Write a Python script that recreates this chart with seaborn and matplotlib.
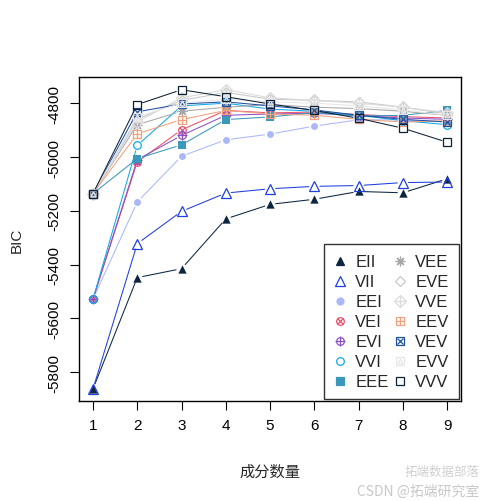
import matplotlib
matplotlib.use("Agg")
import matplotlib.pyplot as plt
import seaborn as sns
import pandas as pd
from matplotlib.lines import Line2D

sns.set_theme(style="white")
plt.rcParams["font.family"] = ["Liberation Sans", "Noto Sans CJK SC", "DejaVu Sans"]

# number of components
components = [1, 2, 3, 4, 5, 6, 7, 8, 9]

# BIC values per model
EII = [-5862, -5448, -5415, -5230, -5176, -5157, -5128, -5133, -5081]
VII = [-5862, -5322, -5202, -5134, -5118, -5109, -5106, -5095, -5093]
EEI = [-5528, -5167, -4997, -4936, -4915, -4885, -4862, -4862, -4870]
VEI = [-5528, -5018, -4899, -4827, -4836, -4833, -4842, -4850, -4855]
EVI = [-5528, -5010, -4920, -4845, -4840, -4838, -4846, -4855, -4860]
VVI = [-5528, -4957, -4810, -4800, -4822, -4830, -4845, -4865, -4880]
EEE = [-5136, -5006, -4955, -4861, -4851, -4835, -4848, -4845, -4827]
VEE = [-5136, -4880, -4830, -4815, -4805, -4815, -4820, -4830, -4845]
EVE = [-5136, -4860, -4790, -4760, -4785, -4790, -4795, -4815, -4840]
VVE = [-5136, -4870, -4780, -4750, -4780, -4790, -4800, -4815, -4835]
EEV = [-5136, -4914, -4861, -4827, -4840, -4845, -4860, -4870, -4865]
VEV = [-5136, -4832, -4803, -4795, -4810, -4825, -4845, -4860, -4870]
EVV = [-5136, -4850, -4800, -4785, -4795, -4800, -4810, -4825, -4845]
VVV = [-5136, -4805, -4750, -4776, -4803, -4827, -4856, -4893, -4945]

models = ["EII", "VII", "EEI", "VEI", "EVI", "VVI", "EEE",
          "VEE", "EVE", "VVE", "EEV", "VEV", "EVV", "VVV"]
bic = {"EII": EII, "VII": VII, "EEI": EEI, "VEI": VEI, "EVI": EVI, "VVI": VVI,
       "EEE": EEE, "VEE": VEE, "EVE": EVE, "VVE": VVE, "EEV": EEV, "VEV": VEV,
       "EVV": EVV, "VVV": VVV}

colors = {"EII": "#0d2540", "VII": "#1f3de0", "EEI": "#aab8fa", "VEI": "#e8506a",
          "EVI": "#8a50c8", "VVI": "#10a8e8", "EEE": "#3a98b8", "VEE": "#a8a8a8",
          "EVE": "#c8c8c8", "VVE": "#dadada", "EEV": "#f2a07e", "VEV": "#2050a0",
          "EVV": "#e6e6e6", "VVV": "#0d2035"}

# marker layers imitating R pch symbols: (marker, filled, size)
markers = {
    "EII": [("^", True, 6)],
    "VII": [("^", False, 6.5)],
    "EEI": [("o", True, 5)],
    "VEI": [("o", False, 5.5), ("x", False, 4.5)],
    "EVI": [("o", False, 5.5), ("+", False, 6.5)],
    "VVI": [("o", False, 5.5)],
    "EEE": [("s", True, 5.5)],
    "VEE": [((8, 2, 0), False, 7)],
    "EVE": [("D", False, 5.5)],
    "VVE": [("D", False, 6.5), ("+", False, 6.5)],
    "EEV": [("s", False, 5.5), ("+", False, 5.5)],
    "VEV": [("s", False, 5.5), ("x", False, 4)],
    "EVV": [("s", False, 5.5), ("^", False, 3.5)],
    "VVV": [("s", False, 5.5)],
}

df = pd.DataFrame([(m, k, v) for m in models for k, v in zip(components, bic[m])],
                  columns=["model", "k", "BIC"])

fig = plt.figure(figsize=(5.02, 5.02), dpi=100)
ax = fig.add_axes([0.157, 0.199, 0.762, 0.646])

for m in models:
    sub = df[df["model"] == m]
    xs, ys = sub["k"].tolist(), sub["BIC"].tolist()
    # R type="b": lines with gaps near the points
    for i in range(len(xs) - 1):
        ax.annotate("", xy=(xs[i + 1], ys[i + 1]), xytext=(xs[i], ys[i]),
                    arrowprops=dict(arrowstyle="-", color=colors[m], lw=0.75,
                                    shrinkA=4, shrinkB=4))
    for mk, filled, size in markers[m]:
        if filled:
            sns.scatterplot(x=xs, y=ys, marker=mk, s=size ** 2, color=colors[m],
                            edgecolor=colors[m], linewidth=0, ax=ax, zorder=3)
        else:
            ax.plot(xs, ys, linestyle="none", marker=mk, markersize=size,
                    markerfacecolor="none", markeredgecolor=colors[m],
                    markeredgewidth=0.9, zorder=3)

ax.set_xlim(0.68, 9.32)
ax.set_ylim(-5907, -4702)
ax.set_xticks(components)
ax.set_yticks([-5800, -5600, -5400, -5200, -5000, -4800])
ax.set_yticklabels(["-5800", "-5600", "-5400", "-5200", "-5000", "-4800"],
                   rotation=90, va="center")
ax.tick_params(direction="out", length=6.5, width=0.8, labelsize=11, pad=6,
               bottom=True, left=True, colors="black")
for s in ax.spines.values():
    s.set_color("black")
    s.set_linewidth(1.0)

ax.set_xlabel("成分数量", fontsize=11, labelpad=22,
              family=["Noto Sans CJK SC", "DejaVu Sans"])
ax.set_ylabel("BIC", fontsize=11, labelpad=17)

handles = []
for m in models:
    mk, filled, size = markers[m][0]
    h = Line2D([], [], linestyle="none", marker=mk, markersize=size,
               markerfacecolor=colors[m] if filled else "none",
               markeredgecolor=colors[m], markeredgewidth=0.9)
    if len(markers[m]) > 1:
        mk2, _, size2 = markers[m][1]
        h2 = Line2D([], [], linestyle="none", marker=mk2, markersize=size2,
                    markerfacecolor="none", markeredgecolor=colors[m],
                    markeredgewidth=0.9)
        h = (h, h2)
    handles.append(h)

leg = ax.legend(handles, models, ncol=2, loc="lower right",
                bbox_to_anchor=(0.993, 0.005), frameon=True, fancybox=False,
                fontsize=12, handlelength=0.8, handletextpad=0.5,
                columnspacing=0.3, labelspacing=0.3, borderpad=0.6,
                borderaxespad=0.0)
leg.get_frame().set_edgecolor("black")
leg.get_frame().set_linewidth(1.0)

fig.text(0.955, 0.012, "CSDN @拓端研究室", fontsize=10, color="#c8c8c8", ha="right",
         family=["Noto Sans CJK SC", "DejaVu Sans"])
fig.text(0.955, 0.052, "拓端数据部落", fontsize=9, color="#d0d0d0", ha="right",
         family=["Noto Sans CJK SC", "DejaVu Sans"])

fig.savefig("out.png", dpi=100)
